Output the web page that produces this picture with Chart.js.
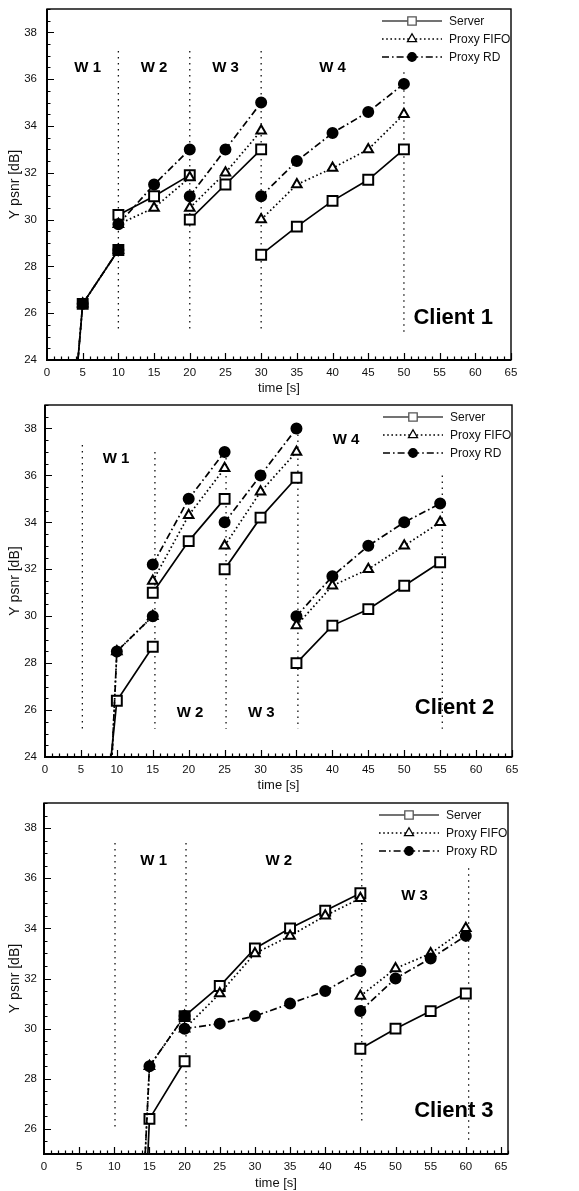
<!DOCTYPE html>
<html>
<head>
<meta charset="utf-8">
<script src="https://cdn.jsdelivr.net/npm/chart.js@4.4.0/dist/chart.umd.min.js"></script>
<style>
  body { margin: 0; background: #fff; width: 579px; height: 1191px; position: relative; overflow: hidden; }
  canvas { position: absolute; left: 0; }
</style>
</head>
<body>
<canvas id="c1" width="579" height="396" style="top:0px"></canvas>
<canvas id="c2" width="579" height="397" style="top:396px"></canvas>
<canvas id="c3" width="579" height="398" style="top:793px"></canvas>
<script>
// ---- data (null = break between windows) ----
const seriesNames = ['Server', 'Proxy FIFO', 'Proxy RD'];
const xTicks = [0, 5, 10, 15, 20, 25, 30, 35, 40, 45, 50, 55, 60, 65];
const yTicks12 = [24, 26, 28, 30, 32, 34, 36, 38];
const yTicks3 = [26, 28, 30, 32, 34, 36, 38];

// Client 1
const x1 = [4, 5, 10, 10, 10, 15, 20, 20, 20, 25, 30, 30, 30, 35, 40, 45, 50];
const server1 = [22.8, 26.4, 28.7, null, 30.2, 31.0, 31.9, null, 30.0, 31.5, 33.0, null, 28.5, 29.7, 30.8, 31.7, 33.0];
const fifo1 = [22.8, 26.4, 28.7, null, 29.8, 30.5, 31.8, null, 30.5, 32.0, 33.8, null, 30.0, 31.5, 32.2, 33.0, 34.5];
const rd1 = [22.8, 26.4, 28.7, null, 29.8, 31.5, 33.0, null, 31.0, 33.0, 35.0, null, 31.0, 32.5, 33.7, 34.6, 35.8];
// window borders: [x, top, bottom]
const windows1 = [[10, 37.2, 25.2], [20, 37.2, 25.2], [30, 37.2, 25.2], [50, 36.3, 25.2]];
const labels1 = [['W 1', 5.7, 36.5], ['W 2', 15.0, 36.5], ['W 3', 25.0, 36.5], ['W 4', 40.0, 36.5]];

// Client 2
const x2 = [9, 10, 15, 15, 15, 20, 25, 25, 25, 30, 35, 35, 35, 40, 45, 50, 55];
const server2 = [23.4, 26.4, 28.7, null, 31.0, 33.2, 35.0, null, 32.0, 34.2, 35.9, null, 28.0, 29.6, 30.3, 31.3, 32.3];
const fifo2 = [21.8, 28.5, 30.0, null, 31.5, 34.3, 36.3, null, 33.0, 35.3, 37.0, null, 29.6, 31.3, 32.0, 33.0, 34.0];
const rd2 = [21.8, 28.5, 30.0, null, 32.2, 35.0, 37.0, null, 34.0, 36.0, 38.0, null, 30.0, 31.7, 33.0, 34.0, 34.8];
const windows2 = [[5.2, 37.3, 25.2], [15.3, 37.0, 25.2], [25.2, 37.0, 25.2], [35.2, 38.0, 25.2], [55.3, 36.0, 25.2]];
const labels2 = [['W 1', 9.9, 36.7], ['W 2', 20.2, 25.9], ['W 3', 30.1, 25.9], ['W 4', 41.9, 37.5]];

// Client 3
const x3 = [14, 15, 20, 20, 20, 25, 30, 35, 40, 45, 45, 45, 50, 55, 60];
const server3 = [20.3, 26.4, 28.7, null, 30.5, 31.7, 33.2, 34.0, 34.7, 35.4, null, 29.2, 30.0, 30.7, 31.4];
const fifo3 = [22.7, 28.5, 30.5, null, 30.0, 31.4, 33.0, 33.7, 34.5, 35.2, null, 31.3, 32.4, 33.0, 34.0];
const rd3 = [22.7, 28.5, 30.5, null, 30.0, 30.2, 30.5, 31.0, 31.5, 32.3, null, 30.7, 32.0, 32.8, 33.7];
const windows3 = [[10.1, 37.4, 26.0], [20.2, 37.4, 26.0], [45.2, 37.4, 26.2], [60.4, 36.4, 25.5]];
const labels3 = [['W 1', 15.6, 36.7], ['W 2', 33.4, 36.7], ['W 3', 52.7, 35.3]];

// ---- look ----
const tickFont = '"Liberation Sans Narrow", "Liberation Sans", Arial, sans-serif';
const textFont = '"Liberation Sans", Arial, sans-serif';
const styles = [
  { ps: 'rect', r: 7, dash: [], fill: '#fff' },
  { ps: 'triangle', r: 5.5, dash: [1.6, 2.6], fill: '#fff' },
  { ps: 'circle', r: 5, dash: [7, 3, 1.6, 3], fill: '#000' }
];

function marker(ctx, st, x, y, scale) {
  const r = st.r * scale;
  ctx.save();
  ctx.setLineDash([]);
  ctx.fillStyle = st.fill;
  ctx.strokeStyle = st.ps === 'rect' ? '#555' : '#000';
  ctx.lineWidth = 1.3;
  ctx.beginPath();
  if (st.ps === 'rect') {
    const s = r * Math.SQRT1_2;
    ctx.rect(x - s, y - s, 2 * s, 2 * s);
  } else if (st.ps === 'triangle') {
    ctx.moveTo(x, y - r);
    ctx.lineTo(x + r * 0.866, y + r * 0.5);
    ctx.lineTo(x - r * 0.866, y + r * 0.5);
    ctx.closePath();
  } else {
    ctx.arc(x, y, r, 0, Math.PI * 2);
  }
  ctx.fill();
  ctx.stroke();
  ctx.restore();
}

const decor = {
  id: 'decor',
  afterDraw(chart, args, o) {
    const { ctx, chartArea: a, scales: { x, y } } = chart;
    ctx.save();
    ctx.strokeStyle = '#000';
    // inward ticks, left and bottom
    ctx.lineWidth = 1.2;
    ctx.beginPath();
    for (let v = y.min + 0.5; v <= y.max + 1e-6; v += 0.5) {
      const py = Math.round(y.getPixelForValue(v)) + 0.5;
      const len = Math.abs(v % 2) < 1e-6 ? 7 : 3.5;
      ctx.moveTo(a.left, py); ctx.lineTo(a.left + len, py);
    }
    for (let v = 1; v <= x.max; v++) {
      const px = Math.round(x.getPixelForValue(v)) + 0.5;
      const len = v % 5 === 0 ? 7 : 3.5;
      ctx.moveTo(px, a.bottom); ctx.lineTo(px, a.bottom - len);
    }
    ctx.stroke();
    // frame
    ctx.lineWidth = 1.4;
    ctx.strokeRect(a.left, a.top, a.right - a.left, a.bottom - a.top);
    ctx.lineWidth = 2;
    ctx.beginPath();
    ctx.moveTo(a.left, a.top); ctx.lineTo(a.left, a.bottom); ctx.lineTo(a.right, a.bottom);
    ctx.stroke();

    // window labels
    ctx.fillStyle = '#000';
    ctx.textAlign = 'center';
    ctx.textBaseline = 'middle';
    ctx.font = 'bold 15px ' + textFont;
    o.labels.forEach(([t, lx, ly]) => ctx.fillText(t, x.getPixelForValue(lx), y.getPixelForValue(ly)));
    ctx.font = 'bold 22px ' + textFont;
    ctx.fillText(o.client, x.getPixelForValue(o.clientPos[0]), y.getPixelForValue(o.clientPos[1]));

    // legend
    ctx.textAlign = 'left';
    ctx.font = '12px ' + tickFont;
    seriesNames.forEach((name, i) => {
      const st = styles[i];
      const ly = a.top + 12 + i * 18;
      ctx.save();
      ctx.strokeStyle = i === 0 ? '#444' : '#000';
      ctx.lineWidth = 1.3;
      ctx.setLineDash(st.dash);
      ctx.beginPath();
      ctx.moveTo(a.right - 129, ly); ctx.lineTo(a.right - 69, ly);
      ctx.stroke();
      ctx.restore();
      marker(ctx, st, a.right - 99, ly, i === 1 ? 0.95 : 0.85);
      ctx.fillStyle = '#111';
      ctx.fillText(name, a.right - 62, ly + 0.5);
    });
    ctx.restore();
  }
};

function makePanel(id, p) {
  const datasets = [p.server, p.fifo, p.rd].map((vals, i) => {
    const st = styles[i];
    return {
      data: p.x.map((xv, j) => ({ x: xv, y: vals[j] })),
      borderColor: '#000',
      borderWidth: 1.7,
      borderDash: st.dash,
      pointStyle: st.ps,
      pointRadius: st.r,
      pointBackgroundColor: st.fill,
      pointBorderColor: '#000',
      pointBorderWidth: 2,
      tension: 0,
      spanGaps: false,
      order: 2 - i
    };
  });
  // window borders drawn as dotted lines behind the series
  datasets.push({
    data: p.windows.flatMap(([wx, top, bot]) => [{ x: wx, y: top }, { x: wx, y: bot }, { x: wx, y: null }]),
    borderColor: '#111',
    borderWidth: 1.3,
    borderDash: [1.5, 4.5],
    pointRadius: 0,
    spanGaps: false,
    order: 10
  });

  new Chart(document.getElementById(id), {
    type: 'line',
    data: { datasets },
    options: {
      responsive: false,
      animation: false,
      devicePixelRatio: 1,
      layout: { padding: { left: 0, top: p.top, right: 579 - p.right, bottom: 0 } },
      plugins: {
        legend: { display: false },
        tooltip: { enabled: false },
        decor: { labels: p.labels, client: p.client, clientPos: p.clientPos }
      },
      scales: {
        x: {
          type: 'linear', min: 0, max: p.xMax,
          afterBuildTicks: s => { s.ticks = xTicks.map(v => ({ value: v })); },
          afterFit: s => { s.height = p.xh; s.paddingLeft = 0; s.paddingRight = 0; },
          grid: { display: false, drawTicks: false },
          border: { display: false },
          ticks: { padding: 6, color: '#111', font: { family: tickFont, size: 11.5 }, maxRotation: 0, autoSkip: false },
          title: { display: true, text: 'time [s]', color: '#111', font: { family: textFont, size: 13 }, padding: { top: 0, bottom: 0 } }
        },
        y: {
          type: 'linear', min: p.yMin, max: 39,
          afterBuildTicks: s => { s.ticks = p.yTicks.map(v => ({ value: v })); },
          afterFit: s => { s.width = p.left; s.paddingTop = 0; s.paddingBottom = 0; },
          grid: { display: false, drawTicks: false },
          border: { display: false },
          ticks: { padding: p.left - 37, color: '#111', font: { family: tickFont, size: 11.5 }, autoSkip: false },
          title: { display: true, text: 'Y psnr [dB]', color: '#111', font: { family: textFont, size: 14 }, padding: { top: 7, bottom: 0 } }
        }
      }
    },
    plugins: [decor]
  });
}

makePanel('c1', { x: x1, server: server1, fifo: fifo1, rd: rd1, windows: windows1, labels: labels1,
  client: 'Client 1', clientPos: [56.9, 25.8], top: 9, left: 47, right: 511, xh: 36, xMax: 65, yMin: 24, yTicks: yTicks12 });
makePanel('c2', { x: x2, server: server2, fifo: fifo2, rd: rd2, windows: windows2, labels: labels2,
  client: 'Client 2', clientPos: [57.0, 26.1], top: 9, left: 45, right: 512, xh: 36, xMax: 65, yMin: 24, yTicks: yTicks12 });
makePanel('c3', { x: x3, server: server3, fifo: fifo3, rd: rd3, windows: windows3, labels: labels3,
  client: 'Client 3', clientPos: [58.3, 26.7], top: 10, left: 44, right: 508, xh: 37, xMax: 66, yMin: 25, yTicks: yTicks3 });
</script>
</body>
</html>
